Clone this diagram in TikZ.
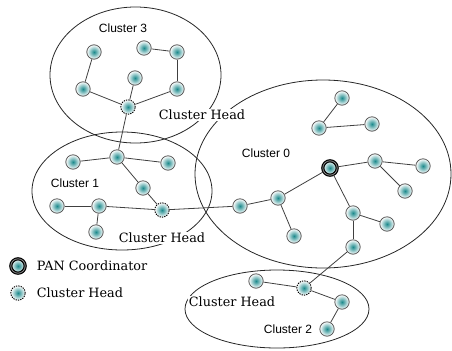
\documentclass[tikz,border=0pt]{standalone}
\usepackage{fontspec}
\setsansfont{Liberation Sans}
\newfontfamily\headfont{DejaVu Serif}
\definecolor{sensorteal}{RGB}{28,138,140}

\tikzset{every picture/.style={line width=0.75pt}}
\tikzset{
  sensor/.style={circle, draw=black!65, line width=0.6pt, minimum size=10.8pt, inner sep=0pt,
    inner color=sensorteal, outer color=white},
  head/.style={sensor, draw=black, line width=0.7pt, dash pattern=on 1pt off 0.8pt},
  pancoord/.style={sensor, draw=black, line width=0.9pt, double=black!45, double distance=0.6pt},
  cluster/.style={draw=black!85, line width=0.6pt},
  link/.style={draw=black!75, line width=0.6pt},
  clname/.style={font=\sffamily\fontsize{9}{10}\selectfont, inner sep=0.75pt},
  headname/.style={font=\headfont\fontsize{9.6}{11}\selectfont, fill=white, inner sep=1pt},
}

\begin{document}
\begin{tikzpicture}[x=0.75pt,y=0.75pt,yscale=-1,xscale=1]
\useasboundingbox (0,0) rectangle (452,350);

%Ellipses
\draw [cluster] (135.5,75) ellipse [x radius=85.5, y radius=68];
\draw [cluster] (122,191) ellipse [x radius=90, y radius=59];
\draw [cluster] (323,174) ellipse [x radius=128, y radius=94];
\draw [cluster] (277,309) ellipse [x radius=92, y radius=39];

% Text Node
\node [headname] (lblhead3) at (202,115) {Cluster Head};
% Text Node
\node [headname] (lblhead1) at (162,238) {Cluster Head};
% Text Node
\node [headname] (lblhead2) at (232,302) {Cluster Head};
% Text Node
\node [clname] (lbl3) at (123,28) {Cluster 3};
% Text Node
\node [clname] (lbl1) at (75,183) {Cluster 1};
% Text Node
\node [clname] (lbl0) at (266,153) {Cluster 0};
% Text Node
\node [clname] (lbl2) at (288,329) {Cluster 2};

%Cluster 3
\node [sensor] (c3a) at (94,52) {};
\node [sensor] (c3b) at (144,48) {};
\node [sensor] (c3c) at (177,52) {};
\node [sensor] (c3d) at (83,89) {};
\node [sensor] (c3e) at (135,78) {};
\node [sensor] (c3f) at (177,89) {};
\node [head] (ch3) at (128,107) {};

%Cluster 1
\node [sensor] (c1a) at (73,162) {};
\node [sensor] (c1b) at (117,157) {};
\node [sensor] (c1c) at (168,163) {};
\node [sensor] (c1d) at (143,188) {};
\node [head] (ch1) at (162,210) {};
\node [sensor] (c1e) at (57,206) {};
\node [sensor] (c1f) at (99,206) {};
\node [sensor] (c1g) at (96,232) {};

%Cluster 0
\node [sensor] (c0a) at (342,98) {};
\node [sensor] (c0b) at (319,128) {};
\node [sensor] (c0c) at (372,124) {};
\node [pancoord] (pan) at (330,168) {};
\node [sensor] (c0d) at (375,161) {};
\node [sensor] (c0e) at (423,166) {};
\node [sensor] (c0f) at (405,191) {};
\node [sensor] (c0g) at (353,213) {};
\node [sensor] (c0h) at (387,224) {};
\node [sensor] (c0i) at (353,247) {};
\node [sensor] (c0j) at (278,198) {};
\node [sensor] (c0k) at (240,206) {};
\node [sensor] (c0l) at (294,236) {};

%Cluster 2
\node [sensor] (c2a) at (256,281) {};
\node [head] (ch2) at (304,288) {};
\node [sensor] (c2b) at (342,302) {};
\node [sensor] (c2c) at (327,329) {};

%Straight Lines
\draw [link] (c3a) -- (c3d);
\draw [link] (c3b) -- (c3c);
\draw [link] (c3c) -- (c3f);
\draw [link] (c3d) -- (ch3);
\draw [link] (c3e) -- (ch3);
\draw [link] (c3f) -- (ch3);
\draw [link] (ch3) -- (c1b);
%Straight Lines
\draw [link] (c1a) -- (c1b);
\draw [link] (c1b) -- (c1c);
\draw [link] (c1b) -- (c1d);
\draw [link] (c1d) -- (ch1);
\draw [link] (c1e) -- (c1f);
\draw [link] (c1f) -- (ch1);
\draw [link] (c1f) -- (c1g);
\draw [link] (ch1) -- (c0k);
%Straight Lines
\draw [link] (c0a) -- (c0b);
\draw [link] (c0b) -- (c0c);
\draw [link] (pan) -- (c0d);
\draw [link] (c0d) -- (c0e);
\draw [link] (c0d) -- (c0f);
\draw [link] (pan) -- (c0g);
\draw [link] (c0g) -- (c0h);
\draw [link] (c0g) -- (c0i);
\draw [link] (pan) -- (c0j);
\draw [link] (c0j) -- (c0k);
\draw [link] (c0j) -- (c0l);
%Straight Lines
\draw [link] (c2a) -- (ch2);
\draw [link] (ch2) -- (c2b);
\draw [link] (c2b) -- (c2c);
\draw [link] (ch2) -- (c0i);

%Legend
\node [pancoord] (legpan) at (18,266) {};
\node [headname, fill=none, anchor=west] (legpantext) at (35,266) {PAN Coordinator};
\node [head] (leghead) at (18,293) {};
\node [headname, fill=none, anchor=west] (legheadtext) at (35,293) {Cluster Head};

\end{tikzpicture}
\end{document}
